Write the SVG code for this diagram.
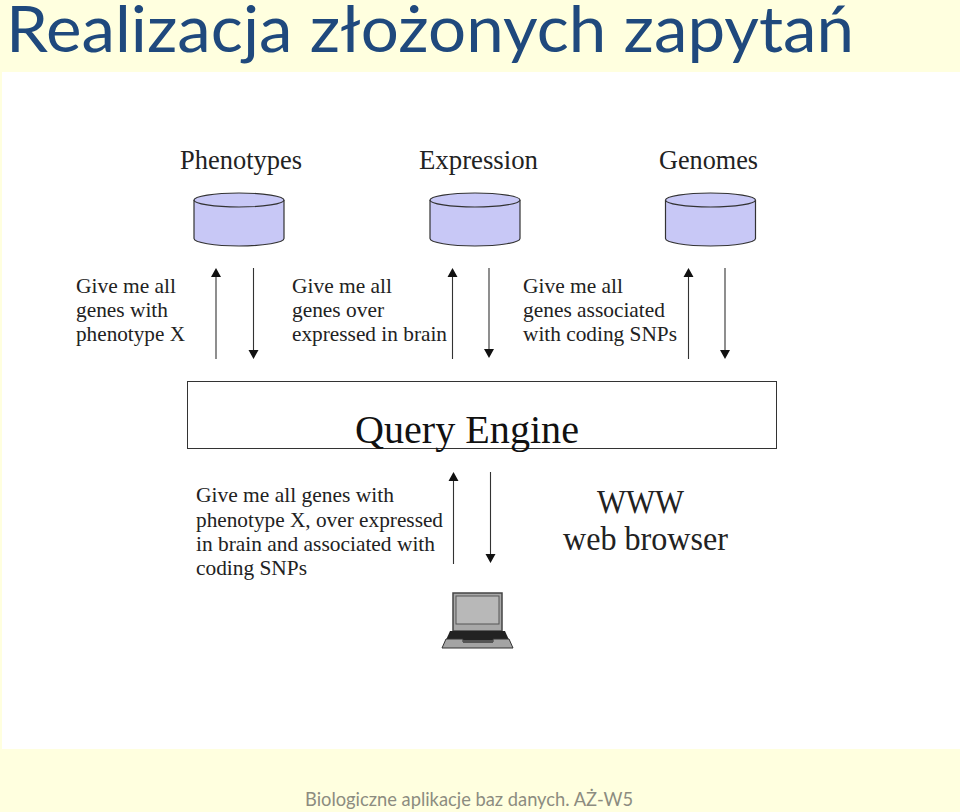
<svg xmlns="http://www.w3.org/2000/svg" width="960" height="812" viewBox="0 0 960 812">
<style>
.d{font-family:"Liberation Serif","Times New Roman",serif;fill:#222}
.h{font-size:27px}
.t{font-size:21.500px}
.w{font-size:33px}
.cyl{fill:#c8c8f6;stroke:#333;stroke-width:1.2}
.ln{stroke:#333;stroke-width:1.1;fill:none}
.ah{fill:#111}
</style>
<defs>
<g id="cyl">
<path class="cyl" d="M0 7V45.500C0 49.500 20 53 45 53S90 49.500 90 45.500V7"/>
<ellipse class="cyl" cx="45" cy="7" rx="45" ry="7"/>
</g>
</defs>
<rect width="960" height="812" fill="#ffffdf"/>
<rect x="2" y="72" width="958" height="677" fill="#fff"/>
<text id="title" x="6" y="52" font-family="Lato,'Open Sans',sans-serif" font-size="63" fill="#1f497d" textLength="848" lengthAdjust="spacingAndGlyphs">Realizacja złożonych zapytań</text>
<text id="footer" x="305" y="806" font-family="Lato,'Open Sans',sans-serif" font-size="19" fill="#8c8c80" textLength="328" lengthAdjust="spacingAndGlyphs">Biologiczne aplikacje baz danych. AŻ-W5</text>
<g id="phenotypes"><use href="#cyl" x="194" y="193"/><text class="d h" x="180" y="169" textLength="122" lengthAdjust="spacingAndGlyphs">Phenotypes</text></g>
<g id="expression"><use href="#cyl" x="430" y="193"/><text class="d h" x="419" y="169" textLength="119" lengthAdjust="spacingAndGlyphs">Expression</text></g>
<g id="genomes"><use href="#cyl" x="665.500" y="193"/><text class="d h" x="659" y="169" textLength="99" lengthAdjust="spacingAndGlyphs">Genomes</text></g>
<g id="query-engine"><rect x="187.500" y="381.500" width="589" height="67" fill="#fff" stroke="#333" stroke-width="1"/><text x="355" y="443" font-family="'Liberation Serif',serif" font-size="40" fill="#111" textLength="224" lengthAdjust="spacingAndGlyphs">Query Engine</text></g>
<g id="connectors">
<path class="ln" d="M216 276V359M253.500 268V350M452.500 276V359M489 268V350M688.500 276V359M725 268V350M453.500 481V564M490.500 472V554"/>
<path class="ah" d="M216 268l-5 9h10zM253.500 359l-5-9h10zM452.500 268l-5 9h10zM489 358l-5-9h10zM688.500 268l-5 9h10zM725 359l-5-9h10zM453.500 472l-5 9h10zM490.500 563l-5-9h10z"/>
</g>
<g id="q1"><text class="d t" x="76" y="293" textLength="100" lengthAdjust="spacingAndGlyphs">Give me all</text><text class="d t" x="76" y="317" textLength="92" lengthAdjust="spacingAndGlyphs">genes with</text><text class="d t" x="76" y="341" textLength="109" lengthAdjust="spacingAndGlyphs">phenotype X</text></g>
<g id="q2"><text class="d t" x="292" y="293" textLength="100" lengthAdjust="spacingAndGlyphs">Give me all</text><text class="d t" x="292" y="317" textLength="92" lengthAdjust="spacingAndGlyphs">genes over</text><text class="d t" x="292" y="341" textLength="155" lengthAdjust="spacingAndGlyphs">expressed in brain</text></g>
<g id="q3"><text class="d t" x="523" y="293" textLength="100" lengthAdjust="spacingAndGlyphs">Give me all</text><text class="d t" x="523" y="317" textLength="142" lengthAdjust="spacingAndGlyphs">genes associated</text><text class="d t" x="523" y="341" textLength="154" lengthAdjust="spacingAndGlyphs">with coding SNPs</text></g>
<g id="q4"><text class="d t" x="196" y="502" textLength="198" lengthAdjust="spacingAndGlyphs">Give me all genes with</text><text class="d t" x="196" y="527" textLength="247" lengthAdjust="spacingAndGlyphs">phenotype X, over expressed</text><text class="d t" x="196" y="551" textLength="239" lengthAdjust="spacingAndGlyphs">in brain and associated with</text><text class="d t" x="196" y="575" textLength="111" lengthAdjust="spacingAndGlyphs">coding SNPs</text></g>
<g id="www"><text class="d w" x="597" y="513" textLength="87" lengthAdjust="spacingAndGlyphs">WWW</text><text class="d w" x="563" y="550" textLength="165" lengthAdjust="spacingAndGlyphs">web browser</text></g>
<g id="laptop">
<rect x="453" y="593" width="49" height="38" fill="#a8a8a8" stroke="#444" stroke-width="1.500"/>
<rect x="456" y="596" width="43" height="28" fill="#b8b8b8" stroke="#555"/>
<path d="M450 631H505L509 640H446Z" fill="#222"/>
<path d="M446 639H463V642H493V639H509L513 648H442Z" fill="#a4a4a4" stroke="#333"/>
<rect x="463" y="640" width="30" height="3" fill="#555"/>
</g>
</svg>
